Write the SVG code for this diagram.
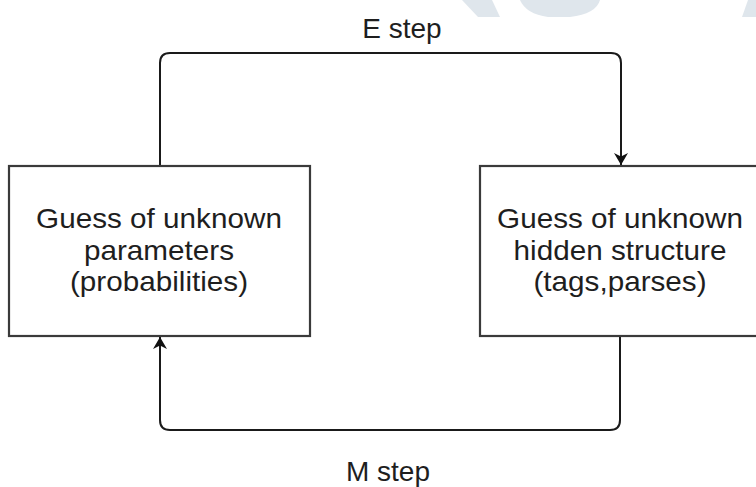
<svg xmlns="http://www.w3.org/2000/svg" width="756" height="487" viewBox="0 0 756 487">
<defs>
<style>
.box{fill:#ffffff;stroke:#3a3a3a;stroke-width:2.2}
.edge{fill:none;stroke:#1a1a1a;stroke-width:2}
.lbl{font-family:"Liberation Sans",Arial,sans-serif;font-size:28px;fill:#1e1e1e;text-anchor:middle}
.wm{fill:#dfe6ec}
</style>
<marker id="arr" viewBox="0 0 12 14" refX="12" refY="7" markerWidth="12" markerHeight="14" markerUnits="userSpaceOnUse" orient="auto">
<path d="M0,0 L12,7 L0,14 L3.5,7 Z" fill="#111111"/>
</marker>
</defs>
<rect width="756" height="487" fill="#ffffff"/>
<g id="watermark">
<path class="wm" d="M462,0 L492,0 L500,17 L478,17 Z"/>
<path class="wm" d="M520,0 L600,0 Q596,14 570,17 L548,17 Q526,14 520,0 Z"/>
<path class="wm" d="M748,0 L756,0 L756,17 L742,17 Z"/>
</g>
<g id="connectors">
<path class="edge" d="M160,165 L160,63 Q160,53 170,53 L611,53 Q621,53 621,63 L621,165" marker-end="url(#arr)"/>
<path class="edge" d="M620,337 L620,420 Q620,430 610,430 L170,430 Q160,430 160,420 L160,337" marker-end="url(#arr)"/>
</g>
<g id="node-parameters">
<rect class="box" x="9" y="166" width="301" height="170"/>
<g transform="translate(159,0) scale(1.06,1)">
<text class="lbl" x="0" y="228">Guess of unknown</text>
<text class="lbl" x="0" y="260">parameters</text>
<text class="lbl" x="0" y="291">(probabilities)</text>
</g>
</g>
<g id="node-hidden">
<rect class="box" x="480" y="166" width="283" height="170"/>
<g transform="translate(620,0) scale(1.06,1)">
<text class="lbl" x="0" y="228">Guess of unknown</text>
<text class="lbl" x="0" y="260">hidden structure</text>
<text class="lbl" x="0" y="291">(tags,parses)</text>
</g>
</g>
<g id="labels">
<text class="lbl" x="402" y="38">E step</text>
<text class="lbl" x="388" y="481">M step</text>
</g>
</svg>
